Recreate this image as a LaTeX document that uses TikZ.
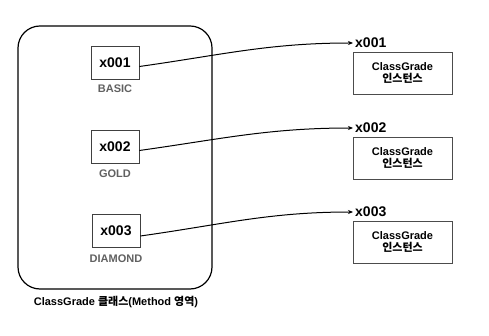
\documentclass[tikz,border=0pt]{standalone}
\usepackage{fontspec}
\setmainfont{Liberation Sans}
\newfontfamily\kr{Noto Sans CJK KR}
\usetikzlibrary{arrows.meta}
\begin{document}
\begin{tikzpicture}[x=1pt,y=-1pt,
  addr/.style={draw=black!75,line width=0.8pt,minimum width=48pt,minimum height=33pt,inner sep=0pt,font=\fontsize{14}{16}\selectfont\bfseries},
  grade/.style={text=black!62,font=\fontsize{11}{13}\selectfont\bfseries,inner sep=0pt},
  inst/.style={draw=black!70,line width=0.7pt,minimum width=99pt,minimum height=42pt,inner sep=0pt,align=center,font=\fontsize{11}{13}\selectfont\bfseries},
  lab/.style={font=\fontsize{14}{16}\selectfont\bfseries,inner sep=0pt,anchor=west},
  ptr/.style={line width=1pt,-{Stealth[length=5pt,width=4pt]}}]
\useasboundingbox (0,0) rectangle (489,336);
\fill[white] (0,0) rectangle (489,336);
\draw[line width=1.2pt,rounded corners=22pt] (18,26) rectangle (212,289);
\node[addr] (a1) at (115,62.5) {x001};
\node[grade] (g1) at (115,89) {BASIC};
\node[addr] (a2) at (115,146.5) {x002};
\node[grade] (g2) at (115,174) {GOLD};
\node[addr] (a3) at (116,231) {x003};
\node[grade] (g3) at (116,259) {DIAMOND};
\node[font=\fontsize{11}{13}\selectfont\bfseries,inner sep=0pt] (cap) at (116,302) {ClassGrade {\kr 클래스}(Method {\kr 영역})};
\node[lab] (l1) at (355,43) {x001};
\node[lab] (l2) at (355,128) {x002};
\node[lab] (l3) at (355,212) {x003};
\coordinate (t1) at (353,43);
\coordinate (t2) at (353,128);
\coordinate (t3) at (353,212);
\node[inst] (i1) at (402.5,73) {ClassGrade\\[-1pt]{\kr 인스턴스}};
\node[inst] (i2) at (402.5,158) {ClassGrade\\[-1pt]{\kr 인스턴스}};
\node[inst] (i3) at (402.5,242) {ClassGrade\\[-1pt]{\kr 인스턴스}};
\draw[ptr] ([yshift=-4pt]a1.east) to[out=8,in=180] (t1);
\draw[ptr] ([yshift=-4pt]a2.east) to[out=8,in=180] (t2);
\draw[ptr] ([yshift=-5pt]a3.east) to[out=8,in=180] (t3);
\end{tikzpicture}
\end{document}
